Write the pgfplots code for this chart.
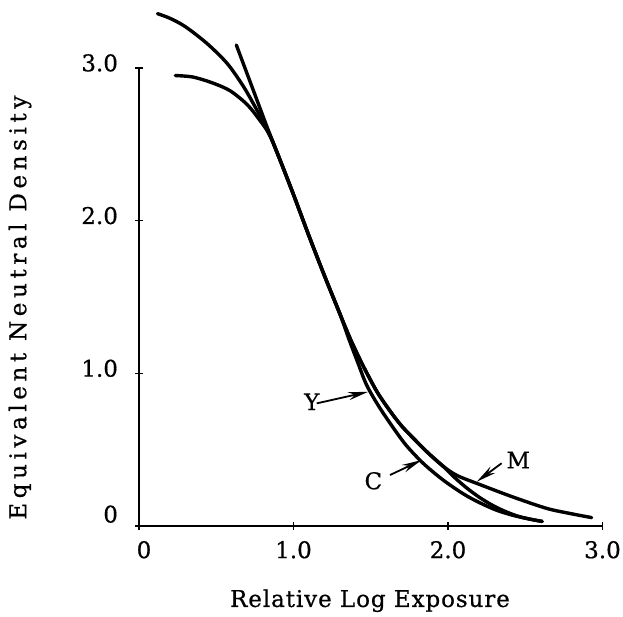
\documentclass[border=0pt]{standalone}
\usepackage{fontspec}
\setmainfont{DejaVu Serif}[FakeBold=0.6]
\usepackage{pgfplots}
\pgfplotsset{compat=1.18}
\usetikzlibrary{arrows.meta}

% characteristic curves of the three dye layers
\pgfplotstableread{
x y
0.12 3.355
0.20 3.325
0.30 3.27
0.44 3.16
0.57 3.03
0.675 2.88
0.76 2.73
0.83 2.60
0.90 2.43
1.00 2.17
1.10 1.90
1.20 1.64
1.30 1.39
1.37 1.22
1.45 1.05
1.54 0.88
1.62 0.76
1.70 0.655
1.80 0.55
1.88 0.47
1.97 0.39
2.06 0.33
2.21 0.27
2.42 0.19
2.64 0.115
2.80 0.08
2.93 0.055
}\curveM

\pgfplotstableread{
x y
0.63 3.15
0.73 2.88
0.83 2.61
0.90 2.43
1.00 2.17
1.10 1.90
1.20 1.64
1.30 1.39
1.37 1.22
1.45 1.05
1.54 0.88
1.62 0.76
1.70 0.655
1.80 0.55
1.88 0.47
1.97 0.39
2.04 0.32
2.12 0.25
2.20 0.19
2.28 0.14
2.36 0.10
2.45 0.065
2.53 0.045
2.61 0.03
}\curveC

\pgfplotstableread{
x y
0.235 2.95
0.35 2.94
0.48 2.90
0.59 2.85
0.70 2.76
0.78 2.66
0.84 2.57
0.90 2.43
1.00 2.17
1.10 1.90
1.20 1.64
1.30 1.39
1.36 1.22
1.42 1.06
1.47 0.93
1.53 0.82
1.60 0.71
1.72 0.54
1.84 0.41
1.97 0.30
2.10 0.21
2.20 0.155
2.31 0.105
2.42 0.07
2.53 0.045
2.61 0.03
}\curveY

\begin{document}
\begin{tikzpicture}[font=\fontsize{11.5}{13}\selectfont]
\begin{axis}[
  x=77.25pt, y=76.35pt,
  xmin=0, xmax=3, ymin=0, ymax=3,
  axis x line=bottom, axis y line=left,
  axis line style={-, line width=0.6pt},
  clip=false,
  xtick={0,1,2,3}, xticklabels={\hspace{5pt}0,1.0,2.0,3.0},
  ytick={0,1,2,3}, yticklabels={\raisebox{7pt}{0},1.0,2.0,3.0},
  tick align=center, major tick length=4pt,
  tick style={line width=0.6pt, black},
  xticklabel style={yshift=-2pt},
  yticklabel style={xshift=-5pt, yshift=2.5pt},
  every axis plot/.append style={line width=1.7pt, line cap=round, line join=round},
]
\addplot[black, smooth] table {\curveM};
\addplot[black, smooth] table {\curveC};
\addplot[black, smooth] table {\curveY};

\draw[line width=0.9pt, -{Stealth[length=10pt,width=4pt]}] (axis cs:1.150,0.803) -- (axis cs:1.484,0.879);
\draw[line width=0.9pt, -{Stealth[length=10pt,width=4pt]}] (axis cs:1.625,0.334) -- (axis cs:1.830,0.432);
\draw[line width=0.9pt, -{Stealth[length=10pt,width=4pt]}] (axis cs:2.347,0.411) -- (axis cs:2.186,0.290);
\node at (axis cs:1.118,0.814) {Y};
\node at (axis cs:1.517,0.296) {C};
\node at (axis cs:2.455,0.432) {M};

\node[anchor=base] at (axis cs:1.495,-0.53) {\addfontfeatures{LetterSpace=4}Relative Log Exposure};
\node[rotate=90] at (axis cs:-0.77,1.43) {\addfontfeatures{LetterSpace=20}Equivalent Neutral Density};

\coordinate (bl) at (axis cs:-0.8997,-0.5959);
\coordinate (tr) at (axis cs:3.1327,3.4447);
\end{axis}
\pgfresetboundingbox
\useasboundingbox (bl) rectangle (tr);
\end{tikzpicture}
\end{document}
